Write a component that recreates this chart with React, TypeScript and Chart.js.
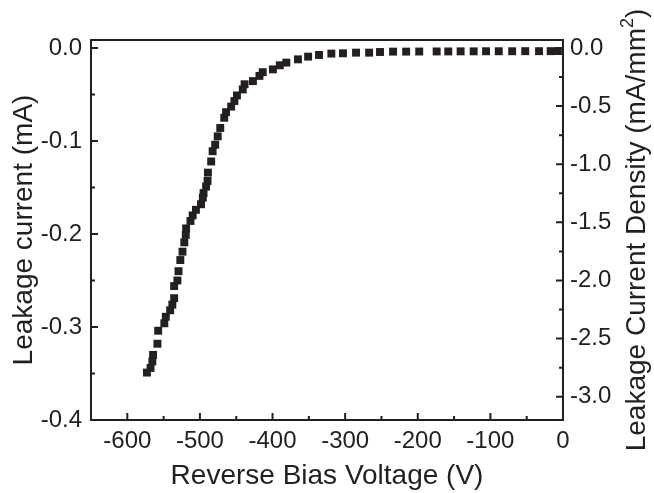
import React, { useEffect, useRef } from "react";
import { Chart, registerables } from "chart.js";

Chart.register(...registerables);

// ---- data ----
const voltage = [
  -573, -568, -565.5, -564.5, -558.5, -557.5, -549, -547, -541, -538, -535.5, -535.5,
  -531, -529.5, -527, -524, -521.5, -519.5, -519, -513, -510, -505.5, -498.5, -496,
  -495, -491.5, -489.5, -489, -484.5, -482.5, -479, -475.5, -472, -466.5, -464, -457,
  -452.5, -449, -441, -438.5, -427, -418, -413.5, -399.5, -390, -381, -365, -351,
  -336, -319, -303, -285, -267, -252, -234, -216, -198, -174, -158, -141,
  -123, -106, -88.5, -70, -52, -33, -17, -7,
];
const current = [
  -0.349, -0.344, -0.337, -0.33, -0.318, -0.304, -0.296, -0.289, -0.282, -0.276, -0.269, -0.256,
  -0.25, -0.24, -0.228, -0.219, -0.209, -0.201, -0.194, -0.186, -0.18, -0.174, -0.168, -0.161,
  -0.156, -0.149, -0.143, -0.134, -0.122, -0.111, -0.104, -0.095, -0.086, -0.075, -0.069, -0.063,
  -0.057, -0.051, -0.0445, -0.039, -0.0356, -0.03, -0.026, -0.023, -0.0186, -0.0157, -0.0122, -0.0093,
  -0.0075, -0.006, -0.0057, -0.005, -0.005, -0.0043, -0.0039, -0.0039, -0.0038, -0.0037, -0.0037, -0.0036,
  -0.0036, -0.0035, -0.0035, -0.0035, -0.0034, -0.0034, -0.0034, -0.0033,
];

const xTicks = [-600, -500, -400, -300, -200, -100, 0];
const yTicks = [-0.4, -0.3, -0.2, -0.1, 0.0];
const y2Ticks = [-3.0, -2.5, -2.0, -1.5, -1.0, -0.5, 0.0];

const xRange = [-650, 0];
const yRange = [-0.4, 0.0086];
const densityFactor = 8; // mA/mm^2 per mA

const xTitle = "Reverse Bias Voltage (V)";
const yTitle = "Leakage current (mA)";
const y2TitleMain = "Leakage Current Density (mA/mm";
const y2TitleSup = "2";
const y2TitleEnd = ")";

const INK = "#231f20";
const FONT = "'Liberation Sans', Arial, Helvetica, sans-serif";

function mids(arr: number[]): number[] {
  const out: number[] = [];
  for (let i = 0; i < arr.length - 1; i++) out.push((arr[i] + arr[i + 1]) / 2);
  return out;
}

const framePlugin = {
  id: "frame",
  afterDraw(chart: any) {
    const { ctx, chartArea, scales } = chart;
    const { left, right, top, bottom } = chartArea;
    ctx.save();
    ctx.strokeStyle = INK;
    ctx.lineWidth = 2;
    ctx.strokeRect(left, top, right - left, bottom - top);
    ctx.beginPath();
    const majorLen = 7;
    const minorLen = 4;
    const xs = scales.x, ys = scales.y, y2s = scales.y2;
    xTicks.forEach((v) => {
      const p = xs.getPixelForValue(v);
      ctx.moveTo(p, bottom);
      ctx.lineTo(p, bottom - majorLen);
    });
    mids(xTicks).forEach((v) => {
      const p = xs.getPixelForValue(v);
      ctx.moveTo(p, bottom);
      ctx.lineTo(p, bottom - minorLen);
    });
    yTicks.forEach((v) => {
      const p = ys.getPixelForValue(v);
      ctx.moveTo(left, p);
      ctx.lineTo(left + majorLen, p);
    });
    mids(yTicks).forEach((v) => {
      const p = ys.getPixelForValue(v);
      ctx.moveTo(left, p);
      ctx.lineTo(left + minorLen, p);
    });
    y2Ticks.forEach((v) => {
      const p = y2s.getPixelForValue(v);
      ctx.moveTo(right, p);
      ctx.lineTo(right - majorLen, p);
    });
    mids(y2Ticks).forEach((v) => {
      const p = y2s.getPixelForValue(v);
      ctx.moveTo(right, p);
      ctx.lineTo(right - minorLen, p);
    });
    ctx.stroke();

    // right axis title, reading bottom to top, with superscript
    const mainFont = `28px ${FONT}`;
    const supFont = `18px ${FONT}`;
    ctx.font = mainFont;
    const wMain = ctx.measureText(y2TitleMain).width;
    const wEnd = ctx.measureText(y2TitleEnd).width;
    ctx.font = supFont;
    const wSup = ctx.measureText(y2TitleSup).width;
    const total = wMain + wSup + wEnd;
    const cx = 637;
    const cy = (top + bottom) / 2;
    ctx.translate(cx, cy);
    ctx.rotate(-Math.PI / 2);
    ctx.fillStyle = INK;
    ctx.textBaseline = "middle";
    ctx.textAlign = "left";
    let xPos = -total / 2;
    ctx.font = mainFont;
    ctx.fillText(y2TitleMain, xPos, 0);
    xPos += wMain;
    ctx.font = supFont;
    ctx.fillText(y2TitleSup, xPos, -9);
    xPos += wSup;
    ctx.font = mainFont;
    ctx.fillText(y2TitleEnd, xPos, 0);
    ctx.restore();
  },
};

export default function App() {
  const ref = useRef<HTMLCanvasElement | null>(null);
  useEffect(() => {
    if (!ref.current) return;
    const points = voltage.map((v, i) => ({ x: v, y: current[i] }));
    const tickFont = { family: FONT, size: 24 };
    const titleFont = { family: FONT, size: 28 };
    const chart = new Chart(ref.current, {
      type: "scatter",
      data: {
        datasets: [
          {
            label: "Leakage current",
            data: points,
            pointStyle: "rect",
            pointRadius: 5.6,
            pointBackgroundColor: INK,
            pointBorderColor: INK,
            pointBorderWidth: 0,
            showLine: false,
            yAxisID: "y",
          },
        ],
      },
      options: {
        responsive: false,
        animation: false,
        events: [],
        layout: { padding: { top: 40, left: 0, right: 0, bottom: 0 } },
        plugins: { legend: { display: false }, tooltip: { enabled: false } },
        scales: {
          x: {
            type: "linear",
            position: "bottom",
            min: xRange[0],
            max: xRange[1],
            grid: { display: false, drawTicks: false },
            border: { display: false },
            ticks: { font: tickFont, color: INK, padding: 7, maxRotation: 0 },
            afterBuildTicks: (s: any) => {
              s.ticks = xTicks.map((v) => ({ value: v }));
            },
            afterFit: (s: any) => {
              s.height = 73;
            },
            title: {
              display: true,
              text: xTitle,
              font: titleFont,
              color: INK,
              padding: { top: 0, bottom: 0 },
            },
          },
          y: {
            type: "linear",
            position: "left",
            min: yRange[0],
            max: yRange[1],
            grid: { display: false, drawTicks: false },
            border: { display: false },
            ticks: {
              font: tickFont,
              color: INK,
              padding: 9,
              callback: (v: any) => Number(v).toFixed(1),
            },
            afterBuildTicks: (s: any) => {
              s.ticks = yTicks.map((v) => ({ value: v }));
            },
            afterFit: (s: any) => {
              s.width = 91;
            },
            title: {
              display: true,
              text: yTitle,
              font: titleFont,
              color: INK,
              padding: { top: 7, bottom: 0 },
            },
          },
          y2: {
            type: "linear",
            position: "right",
            min: yRange[0] * densityFactor,
            max: yRange[1] * densityFactor,
            grid: { display: false, drawTicks: false },
            border: { display: false },
            ticks: {
              font: tickFont,
              color: INK,
              padding: 7,
              callback: (v: any) => Number(v).toFixed(1),
            },
            afterBuildTicks: (s: any) => {
              s.ticks = y2Ticks.map((v) => ({ value: v }));
            },
            afterFit: (s: any) => {
              s.width = 91;
            },
          },
        },
      },
      plugins: [framePlugin],
    } as any);
    return () => chart.destroy();
  }, []);
  return (
    <div style={{ position: "fixed", left: 0, top: 0, width: 654, height: 493, background: "#fff" }}>
      <canvas ref={ref} width={654} height={493} style={{ width: 654, height: 493, display: "block" }} />
    </div>
  );
}
